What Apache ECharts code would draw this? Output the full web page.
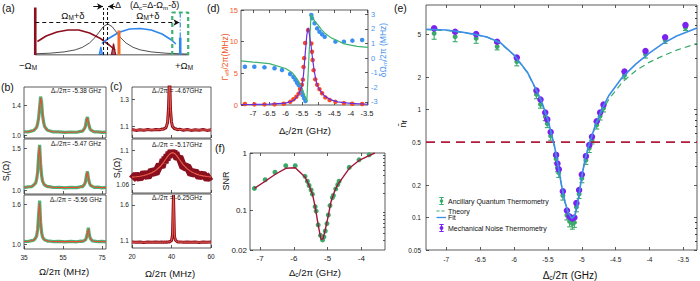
<!DOCTYPE html>
<html><head><meta charset="utf-8">
<script src="https://cdn.jsdelivr.net/npm/echarts@6.0.0/dist/echarts.min.js"></script>
<style>html,body{margin:0;padding:0;background:#fff}#c{width:700px;height:281px}</style>
</head><body><div id="c"></div>
<script>
// ---------------- (a) schematic (x in units of Omega_M) ----------------
const aBaseX = [-1.0, 1.12], aBaseY = [0, 0];
const aLorX = [-1.0,-0.8,-0.6,-0.45,-0.35,-0.25,-0.18,-0.12,-0.06,0,0.06,0.12,0.18,0.25,0.35,0.45,0.6,0.8,1.0,1.12];
const aLorY = [0.024,0.036,0.062,0.102,0.153,0.242,0.343,0.456,0.569,0.62,0.569,0.456,0.343,0.242,0.153,0.102,0.062,0.036,0.024,0.019];
const aRedDomeX = [-0.97,-0.85,-0.7,-0.55,-0.4,-0.25,-0.1,0.02,0.1];
const aRedDomeY = [0.27,0.38,0.46,0.5,0.5,0.44,0.33,0.2,0.1];
const aRedSpikeX = [0.05,0.08,0.11], aRedSpikeY = [0,0.23,0];
const aBlueDomeX = [-0.08,0.0,0.15,0.3,0.45,0.6,0.75,0.88,0.94];
const aBlueDomeY = [0.23,0.32,0.45,0.52,0.53,0.5,0.42,0.3,0.22];
const aBlueSpikeX = [-0.12,-0.095,-0.07], aBlueSpikeY = [0,0.16,0];
const aRedBarX = [-1,-1], aRedBarY = [0,0.95];
const aOrangeBarX = [0.155,0.155], aOrangeBarY = [0,0.49];
const aBlueBarX = [1,1], aBlueBarY = [0,0.35];
const aBlueDashX = [1,1], aBlueDashY = [0.35,0.84];
const aSpanX = [-1,0.99], aSpanY = [0.65,0.65];
const aDet1X = [-0.058,-0.058], aDet2X = [-0.003,-0.003], aDetY = [0,0.94];
const aArrLX = [-0.2,-0.065], aArrRX = [0.1,0.005], aArrY = [0.97,0.97];
const aBoxX = [0.89,0.89,1.11,1.11], aBoxY = [0,0.85,0.85,0];

// ---------------- (b) spectra ----------------
const bFreq = [35,37,39,40,41,41.5,42,42.5,43,43.5,44,44.5,45,45.5,46,47,48,50,53,56,59,62,64,65,66,66.5,67,67.5,68,68.5,69,70,71,73,75,77];
const b1Fit = [1.040,1.044,1.052,1.063,1.085,1.108,1.148,1.224,1.360,1.499,1.427,1.270,1.172,1.121,1.093,1.066,1.054,1.044,1.039,1.037,1.037,1.040,1.046,1.055,1.084,1.123,1.195,1.232,1.163,1.104,1.075,1.052,1.044,1.039,1.037,1.036];
const b1Data = [1.043,1.041,1.055,1.060,1.089,1.104,1.153,1.229,1.371,1.512,1.438,1.262,1.178,1.117,1.097,1.063,1.057,1.041,1.042,1.034,1.040,1.037,1.049,1.052,1.088,1.119,1.203,1.241,1.157,1.108,1.071,1.055,1.041,1.042,1.034,1.039];
const b2Fit = [1.039,1.042,1.051,1.063,1.095,1.135,1.224,1.412,1.525,1.323,1.179,1.115,1.085,1.069,1.059,1.049,1.044,1.040,1.037,1.036,1.036,1.038,1.043,1.050,1.073,1.107,1.178,1.221,1.145,1.090,1.066,1.048,1.042,1.038,1.036,1.035];
const b2Data = [1.036,1.045,1.048,1.066,1.092,1.139,1.220,1.418,1.540,1.318,1.183,1.112,1.088,1.066,1.062,1.046,1.047,1.037,1.040,1.033,1.039,1.035,1.046,1.047,1.076,1.104,1.182,1.226,1.142,1.093,1.063,1.051,1.039,1.041,1.033,1.038];
const b3Fit = [1.038,1.041,1.049,1.060,1.090,1.128,1.220,1.450,1.619,1.335,1.173,1.109,1.080,1.065,1.057,1.048,1.043,1.039,1.037,1.036,1.036,1.037,1.040,1.043,1.053,1.066,1.097,1.173,1.230,1.135,1.081,1.050,1.042,1.038,1.036,1.035];
const b3Data = [1.041,1.038,1.052,1.057,1.093,1.125,1.224,1.446,1.655,1.330,1.177,1.106,1.083,1.062,1.060,1.045,1.046,1.036,1.040,1.033,1.039,1.034,1.043,1.040,1.056,1.063,1.100,1.170,1.245,1.131,1.084,1.047,1.045,1.035,1.039,1.032];
const bXTicks = [35,55,75];
const bLabels = ['-5.38 GHz','-5.47 GHz','-5.56 GHz'];

// ---------------- (c) spectra ----------------
const cFreq = [20,22,24,26,28,30,32,34,35,36,36.5,37,37.5,38,38.5,39,39.5,40,40.5,41,41.5,42,43,44,46,48,50,52,54,56,58,60];
const c1Fit = [1.076,1.076,1.076,1.076,1.077,1.077,1.077,1.079,1.080,1.083,1.086,1.091,1.103,1.131,1.232,1.476,1.232,1.131,1.103,1.091,1.086,1.083,1.080,1.079,1.077,1.077,1.076,1.076,1.076,1.076,1.076,1.076];
const c1Data = [1.079,1.073,1.078,1.074,1.080,1.075,1.079,1.077,1.083,1.081,1.089,1.088,1.106,1.128,1.238,1.490,1.226,1.134,1.100,1.094,1.083,1.086,1.077,1.082,1.074,1.079,1.073,1.078,1.074,1.079,1.073,1.077];
const c2Fit = [1.0685,1.069,1.0696,1.0705,1.0718,1.0736,1.0763,1.0803,1.0828,1.0858,1.0875,1.0891,1.0908,1.0924,1.0939,1.0952,1.0962,1.0968,1.097,1.0968,1.0962,1.0952,1.0924,1.0891,1.0828,1.0781,1.0749,1.0726,1.0711,1.070,1.0693,1.0687];
const c2Data = [1.066,1.071,1.067,1.073,1.069,1.076,1.073,1.083,1.080,1.089,1.085,1.092,1.088,1.095,1.091,1.098,1.093,1.100,1.095,1.099,1.094,1.097,1.090,1.092,1.080,1.081,1.072,1.075,1.069,1.072,1.067,1.070];
const c3Fit = [1.081,1.081,1.081,1.081,1.081,1.081,1.081,1.081,1.081,1.081,1.081,1.082,1.082,1.083,1.084,1.086,1.091,1.105,1.170,1.730,1.170,1.105,1.086,1.083,1.082,1.081,1.081,1.081,1.081,1.081,1.081,1.081];
const c3Data = [1.083,1.079,1.082,1.078,1.083,1.080,1.082,1.079,1.083,1.080,1.082,1.081,1.084,1.081,1.086,1.085,1.094,1.102,1.180,1.735,1.160,1.108,1.084,1.085,1.080,1.083,1.079,1.082,1.078,1.083,1.080,1.082];
const cXTicks = [20,40,60];
const cLabels = ['-4.67GHz','-5.17GHz','-6.25GHz'];

// ---------------- (d) ----------------
const dGammaX = [-7.25,-6.96,-6.65,-6.34,-6.06,-5.86,-5.76,-5.67,-5.6,-5.55,-5.5,-5.47,-5.45,-5.43,-5.4,-5.31,-5.21,-5.19,-5.17,-5.14,-5.09,-5.03,-4.96,-4.88,-4.78,-4.65,-4.47,-4.21,-3.95,-3.65];
const dGammaY = [0.16,0.1,0.1,0.1,0.2,0.5,0.9,1.3,1.8,2.5,3.2,4.0,6.0,7.4,9.8,11.8,9.7,8.4,7.1,5.5,4.05,3.2,2.5,1.85,1.2,0.8,0.5,0.3,0.2,0.15];
const dGammaFitX = [-7.37,-7.0,-6.5,-6.0,-5.8,-5.7,-5.6,-5.5,-5.45,-5.4,-5.35,-5.31,-5.27,-5.22,-5.17,-5.12,-5.05,-5.0,-4.9,-4.8,-4.6,-4.4,-4.0,-3.47];
const dGammaFitY = [0.08,0.1,0.15,0.3,0.6,1.0,1.7,3.0,4.8,8.0,11.0,12.2,11.2,9.4,7.2,5.3,3.5,2.8,2.0,1.4,0.8,0.5,0.25,0.12];
const dShiftX = [-7.25,-6.96,-6.65,-6.34,-6.11,-5.86,-5.76,-5.70,-5.65,-5.6,-5.55,-5.52,-5.48,-5.43,-5.39,-5.21,-5.19,-5.11,-5.03,-4.96,-4.88,-4.8,-4.47,-4.21,-3.95,-3.65];
const dShiftY = [-0.6,-0.6,-0.64,-0.7,-0.82,-1.1,-1.3,-1.5,-1.7,-1.85,-2.08,-2.3,-2.53,-2.76,-2.95,2.95,2.72,2.38,2.03,1.8,1.62,1.46,1.12,1.12,1.19,1.23];
const dShiftThX = [-7.37,-7.0,-6.5,-6.0,-5.8,-5.7,-5.6,-5.5,-5.45,-5.4,-5.35,-5.22,-5.15,-5.1,-5.0,-4.9,-4.8,-4.6,-4.4,-4.2,-4.0,-3.8,-3.47];
const dShiftThY = [-0.2,-0.28,-0.38,-0.72,-1.0,-1.28,-1.6,-2.05,-2.35,-2.65,-3.0,3.0,2.7,2.5,2.25,1.95,1.72,1.38,1.18,0.97,0.88,0.8,0.73];
const dXTicks = [-7,-6.5,-6,-5.5,-5,-4.5,-4,-3.5];
const dLeftTicks = [0,5,10,15];
const dRightTicks = [-3,-2,-1,0,1,2,3];

// ---------------- (f) SNR ----------------
const fX = [-7.17,-6.85,-6.56,-6.24,-5.96,-5.67,-5.6,-5.55,-5.49,-5.45,-5.37,-5.34,-5.28,-5.21,-5.15,-5.11,-5.07,-5.02,-4.98,-4.93,-4.86,-4.83,-4.76,-4.70,-4.66,-4.36,-4.07,-3.77];
const fSNR = [0.24,0.34,0.46,0.6,0.6,0.39,0.32,0.27,0.225,0.19,0.115,0.096,0.055,0.036,0.03,0.034,0.043,0.058,0.082,0.12,0.165,0.18,0.235,0.28,0.32,0.56,0.76,0.93];
const fLineX = [-7.17,-6.85,-6.56,-6.24,-5.96,-5.67,-5.55,-5.45,-5.37,-5.28,-5.2,-5.14,-5.07,-4.98,-4.9,-4.8,-4.7,-4.36,-4.07,-3.77,-3.6];
const fLineY = [0.24,0.32,0.42,0.54,0.55,0.38,0.27,0.19,0.115,0.055,0.031,0.031,0.045,0.08,0.14,0.21,0.28,0.54,0.74,0.9,1.0];
const fXTicks = [-7,-6,-5,-4];
const fYTicks = [0.02,0.1,1];
const fYMinor = [0.03,0.04,0.05,0.06,0.07,0.08,0.09,0.2,0.3,0.4,0.5,0.6,0.7,0.8,0.9];

// ---------------- (e) occupancy ----------------
const eX = [-7.18,-6.87,-6.56,-6.25,-5.96,-5.67,-5.61,-5.54,-5.51,-5.46,-5.38,-5.36,-5.34,-5.28,-5.22,-5.18,-5.14,-5.11,-5.08,-5.04,-5.0,-4.94,-4.89,-4.85,-4.78,-4.73,-4.68,-4.37,-4.06,-3.77,-3.47];
const eMech = [5.65,5.26,5.0,4.25,3.03,1.5,1.24,0.94,0.81,0.62,0.38,0.316,0.28,0.175,0.116,0.102,0.098,0.10,0.136,0.18,0.25,0.37,0.47,0.56,0.78,0.94,1.11,2.25,3.49,4.67,6.06];
const eAnc = [5.08,4.73,4.57,3.83,2.78,1.38,1.12,0.86,0.74,0.57,0.35,0.29,0.26,0.16,0.105,0.092,0.088,0.09,0.125,0.165,0.23,0.34,0.44,0.52,0.72,0.87,1.03,2.08,3.25,4.4,5.75];
const eAncLo = [4.48,4.25,4.11,3.57,2.54,1.26,1.03,0.79,0.68,0.52,0.32,0.265,0.235,0.145,0.095,0.082,0.078,0.081,0.113,0.15,0.21,0.31,0.40,0.48,0.66,0.80,0.95,1.93,3.0,4.1,5.4];
const eAncHi = [5.5,5.15,4.95,4.1,3.0,1.5,1.22,0.93,0.8,0.62,0.38,0.315,0.28,0.175,0.115,0.101,0.097,0.099,0.137,0.18,0.25,0.37,0.48,0.56,0.78,0.94,1.11,2.23,3.5,4.7,6.1];
const eFitX = [-7.3,-7.0,-6.8,-6.6,-6.4,-6.2,-6.0,-5.8,-5.7,-5.6,-5.5,-5.4,-5.3,-5.25,-5.2,-5.15,-5.1,-5.05,-5.0,-4.95,-4.9,-4.8,-4.7,-4.6,-4.4,-4.2,-4.0,-3.8,-3.6,-3.3];
const eFitY = [5.55,5.45,5.25,5.0,4.7,4.15,3.2,2.2,1.65,1.22,0.8,0.45,0.2,0.14,0.11,0.098,0.105,0.15,0.24,0.35,0.46,0.72,1.02,1.35,2.0,2.65,3.35,4.1,4.8,5.7];
const eTheoryY = [5.5,5.4,5.22,4.98,4.68,4.12,3.18,2.18,1.63,1.2,0.79,0.44,0.2,0.14,0.11,0.098,0.105,0.15,0.24,0.35,0.46,0.7,0.97,1.25,1.8,2.3,2.75,3.15,3.55,4.1];
const eThreshX = [-7.3,-3.3], eThreshY = [0.5,0.5];
const eXTicks = [-7,-6.5,-6,-5.5,-5,-4.5,-4,-3.5];
const eYTicks = [0.05,0.1,0.2,0.5,1,2,5];
const eYMinor = [0.06,0.07,0.08,0.09,0.3,0.4,0.6,0.7,0.8,0.9,3,4,6,7,8,9];

// ---------------- build ----------------
const FONT = "'Liberation Sans', Arial, sans-serif";
const lg = a => a.map(v => Math.log10(v));
const pts = (xs, ys) => xs.map((x, i) => [x, ys[i]]);
const powFmt = v => String(+Math.pow(10, v).toPrecision(2));
const GREEN = '#3aaa6a', BRED = '#ee4a2c', DRED = '#8a1020';

function box(left, top, width, height) {
  return {left, top, width, height, show: true, borderColor: '#333', borderWidth: 0.8, backgroundColor: 'transparent', containLabel: false, outerBoundsMode: 'none'};
}
function ax(o) {
  return {
    type: 'value', gridIndex: o.grid, min: o.min, max: o.max, position: o.pos,
    axisLine: {show: false, onZero: false}, splitLine: {show: false},
    axisTick: {show: true, inside: true, length: o.len || 3, customValues: o.ticks, lineStyle: {color: '#333', width: 0.8}},
    axisLabel: {show: !!o.labels, customValues: o.ticks, formatter: o.fmt || (v => String(v)), fontSize: o.fs || 7, color: o.color || '#222', fontFamily: FONT, margin: o.margin || 3, hideOverlap: false}
  };
}
function line(xi, yi, xs, ys, color, width, extra) {
  return Object.assign({type: 'line', xAxisIndex: xi, yAxisIndex: yi, data: pts(xs, ys), showSymbol: false, symbol: 'none', silent: true,
    lineStyle: {color, width}, animation: false}, extra || {});
}
function scat(xi, yi, xs, ys, color, size) {
  return {type: 'scatter', xAxisIndex: xi, yAxisIndex: yi, data: pts(xs, ys), symbolSize: size, itemStyle: {color, opacity: 1}, silent: true, animation: false};
}
function arrow(xs, ys, dashed) {
  return {type: 'line', xAxisIndex: 0, yAxisIndex: 0, data: [], silent: true,
    markLine: {silent: true, animation: false, symbol: ['none', 'arrow'], symbolSize: [5, 6], label: {show: false},
      lineStyle: {color: '#111', width: 1, type: dashed ? [4, 3] : 'solid'},
      data: [[{coord: [xs[0], ys[0]]}, {coord: [xs[1], ys[1]]}]]}};
}

const grid = [
  {left: 28, top: 5, width: 166, height: 50, show: false, containLabel: false, outerBoundsMode: 'none'},
  box(24, 87, 82, 51), box(24, 139, 82, 55), box(24, 195, 82, 54),
  box(132, 87, 79, 51), box(132, 139, 79, 54), box(132, 194, 79, 54),
  box(241, 10, 127, 95),
  box(250, 153, 135, 97),
  box(426, 5, 271, 245)
];
const xAxis = [
  {type: 'value', gridIndex: 0, min: -1.1, max: 1.19, show: false, axisLine: {onZero: false}},
  ax({grid: 1, min: 35, max: 77, ticks: bXTicks}),
  ax({grid: 2, min: 35, max: 77, ticks: bXTicks}),
  ax({grid: 3, min: 35, max: 77, ticks: bXTicks, labels: true, fs: 6.5, margin: 5}),
  ax({grid: 4, min: 20, max: 60, ticks: cXTicks}),
  ax({grid: 5, min: 20, max: 60, ticks: cXTicks}),
  ax({grid: 6, min: 20, max: 60, ticks: cXTicks, labels: true, fs: 6.5, margin: 5}),
  ax({grid: 7, min: -7.37, max: -3.47, ticks: dXTicks, labels: true, fs: 7.5, margin: 4}),
  ax({grid: 7, min: -7.37, max: -3.47, ticks: dXTicks, pos: 'top'}),
  ax({grid: 8, min: -7.3, max: -3.3, ticks: fXTicks, labels: true, fs: 8, margin: 4}),
  ax({grid: 8, min: -7.3, max: -3.3, ticks: fXTicks, pos: 'top'}),
  ax({grid: 9, min: -7.3, max: -3.3, ticks: eXTicks, labels: true, fs: 6.5, margin: 6}),
  ax({grid: 9, min: -7.3, max: -3.3, ticks: eXTicks, pos: 'top'})
];
const f1 = v => v.toFixed(1), f2 = v => String(+v.toFixed(2));
const yAxis = [
  {type: 'value', gridIndex: 0, min: 0, max: 1, show: false, axisLine: {onZero: false}},
  ax({grid: 1, min: 0.96, max: 1.64, ticks: [1.0, 1.4], labels: true, fmt: f1, fs: 6.5}),
  ax({grid: 2, min: 0.96, max: 1.61, ticks: [1.0, 1.5], labels: true, fmt: f1, fs: 6.5}),
  ax({grid: 3, min: 0.925, max: 1.74, ticks: [1.0, 1.6], labels: true, fmt: f1, fs: 6.5}),
  ax({grid: 4, min: 1.018, max: 1.387, ticks: [1.1, 1.3], labels: true, fmt: f2, fs: 6.5}),
  ax({grid: 5, min: 1.05, max: 1.113, ticks: [1.06, 1.1], labels: true, fmt: f2, fs: 6.5}),
  ax({grid: 6, min: 1.0, max: 1.75, ticks: [1.1, 1.6], labels: true, fmt: f2, fs: 6.5}),
  ax({grid: 7, min: 0, max: 15, ticks: dLeftTicks, labels: true, fs: 7.5, color: '#f05a28'}),
  ax({grid: 7, min: -3.22, max: 3.29, ticks: dRightTicks, labels: true, fs: 7.5, color: '#4a94ec', pos: 'right'}),
  ax({grid: 8, min: Math.log10(0.02), max: 0, ticks: lg(fYTicks), labels: true, fmt: powFmt, fs: 8}),
  ax({grid: 8, min: Math.log10(0.02), max: 0, ticks: lg(fYMinor), len: 2}),
  ax({grid: 9, min: Math.log10(0.05), max: Math.log10(9.3), ticks: lg(eYTicks), labels: true, fmt: powFmt, fs: 6.5, margin: 5}),
  ax({grid: 9, min: Math.log10(0.05), max: Math.log10(9.3), ticks: lg(eYMinor), len: 2}),
  ax({grid: 9, min: Math.log10(0.05), max: Math.log10(9.3), ticks: lg(eYTicks), pos: 'right'}),
  ax({grid: 9, min: Math.log10(0.05), max: Math.log10(9.3), ticks: lg(eYMinor), len: 2, pos: 'right'})
];

function errRender(color) {
  return function (params, api) {
    const x = api.value(0), lo = api.coord([x, api.value(1)]), hi = api.coord([x, api.value(2)]);
    const w = 2.5, st = {stroke: color, lineWidth: 1.1};
    return {type: 'group', children: [
      {type: 'line', shape: {x1: lo[0], y1: lo[1], x2: hi[0], y2: hi[1]}, style: st},
      {type: 'line', shape: {x1: lo[0] - w, y1: lo[1], x2: lo[0] + w, y2: lo[1]}, style: st},
      {type: 'line', shape: {x1: hi[0] - w, y1: hi[1], x2: hi[0] + w, y2: hi[1]}, style: st}
    ]};
  };
}

const series = [
  // (a)
  line(0, 0, aBaseX, aBaseY, '#111', 1),
  line(0, 0, aLorX, aLorY, '#222', 0.8),
  line(0, 0, aRedDomeX, aRedDomeY, '#8b0f1f', 1.6),
  line(0, 0, aBlueDomeX, aBlueDomeY, '#2f86f0', 1.6),
  line(0, 0, aRedSpikeX, aRedSpikeY, '#8b0f1f', 1.2, {areaStyle: {color: '#8b0f1f'}}),
  line(0, 0, aBlueSpikeX, aBlueSpikeY, '#2f86f0', 1.2, {areaStyle: {color: '#2f86f0'}}),
  line(0, 0, aRedBarX, aRedBarY, '#8b0f1f', 2.6),
  line(0, 0, aOrangeBarX, aOrangeBarY, '#f26a2a', 3),
  line(0, 0, aBlueBarX, aBlueBarY, '#2f86f0', 2.6),
  line(0, 0, aBlueDashX, aBlueDashY, '#2f86f0', 1.2, {lineStyle: {color: '#2f86f0', width: 1.2, type: [5, 2, 1, 2]}}),
  line(0, 0, aDet1X, aDetY, '#111', 1, {lineStyle: {color: '#111', width: 1, type: [3, 2]}}),
  line(0, 0, aDet2X, aDetY, '#111', 1, {lineStyle: {color: '#111', width: 1, type: [3, 2]}}),
  line(0, 0, aBoxX, aBoxY, '#3cb371', 2.2, {lineStyle: {color: '#3cb371', width: 2.2, type: [4, 3]}}),
  arrow(aSpanX, aSpanY, true),
  arrow(aArrLX, aArrY, false),
  arrow(aArrRX, aArrY, false),
  // (b)
  line(1, 1, bFreq, b1Data, GREEN, 3.2, {lineStyle: {color: GREEN, width: 3.2, opacity: 0.9}}),
  line(1, 1, bFreq, b1Fit, BRED, 1.1),
  line(2, 2, bFreq, b2Data, GREEN, 3.2, {lineStyle: {color: GREEN, width: 3.2, opacity: 0.9}}),
  line(2, 2, bFreq, b2Fit, BRED, 1.1),
  line(3, 3, bFreq, b3Data, GREEN, 3.2, {lineStyle: {color: GREEN, width: 3.2, opacity: 0.9}}),
  line(3, 3, bFreq, b3Fit, BRED, 1.1),
  // (c)
  line(4, 4, cFreq, c1Data, DRED, 3),
  line(4, 4, cFreq, c1Fit, '#f0604a', 1),
  line(5, 5, cFreq, c2Data, DRED, 8),
  line(5, 5, cFreq, c2Fit, '#f0604a', 1.1),
  line(6, 6, cFreq, c3Data, DRED, 3),
  line(6, 6, cFreq, c3Fit, '#f0604a', 1),
  // (d)
  line(7, 8, dShiftThX, dShiftThY, '#3cb371', 1.2),
  scat(7, 8, dShiftX, dShiftY, '#3b8ff0', 4.5),
  scat(7, 7, dGammaX, dGammaY, '#ff4a1c', 4.5),
  line(7, 7, dGammaFitX, dGammaFitY, '#6b2fe0', 1.2),
  // (f)
  line(9, 9, fLineX, lg(fLineY), '#a31538', 1.4),
  scat(9, 9, fX, lg(fSNR), GREEN, 5),
  // (e)
  line(11, 11, eThreshX, lg(eThreshY), '#b01c3c', 1.8, {lineStyle: {color: '#b01c3c', width: 1.8, type: [9, 6]}}),
  {type: 'custom', xAxisIndex: 11, yAxisIndex: 11, silent: true, animation: false,
    data: eX.map((x, i) => [x, Math.log10(eAncLo[i]), Math.log10(eAncHi[i])]),
    encode: {x: 0, y: [1, 2]}, renderItem: errRender(GREEN)},
  scat(11, 11, eX, lg(eAnc), GREEN, 5),
  line(11, 11, eFitX, lg(eTheoryY), GREEN, 1.2, {lineStyle: {color: GREEN, width: 1.2, type: [6, 4]}}),
  line(11, 11, eFitX, lg(eFitY), '#3a8ee8', 1.6),
  scat(11, 11, eX, lg(eMech), '#7b22f0', 6.5)
];

// ---------------- text ----------------
function rich(fs, color) {
  return {
    n: {fontSize: fs, fontFamily: FONT, fill: color, lineHeight: fs * 1.2},
    s: {fontSize: fs * 0.68, fontFamily: FONT, fill: color, verticalAlign: 'bottom', lineHeight: fs * 0.55}
  };
}
function T(x, y, text, fs, o) {
  o = o || {};
  const color = o.color || '#111';
  return {type: 'text', x, y, rotation: o.rot || 0, silent: true, z: 50,
    style: {text, rich: rich(fs, color), fontSize: fs, fontFamily: FONT, fill: color,
      align: o.align || 'center', textAlign: o.align || 'center', verticalAlign: 'middle', textVerticalAlign: 'middle'}};
}
const R90 = Math.PI / 2;
const graphic = [
  T(2, 8, '{n|(a)}', 10.5, {align: 'left'}),
  T(1, 87, '{n|(b)}', 10.5, {align: 'left'}),
  T(110, 86, '{n|(c)}', 10.5, {align: 'left'}),
  T(207, 8, '{n|(d)}', 10.5, {align: 'left'}),
  T(394, 8, '{n|(e)}', 10.5, {align: 'left'}),
  T(215, 148, '{n|(f)}', 10.5, {align: 'left'}),
  // (a) labels
  T(28, 65, '{n|−Ω}{s|M}', 9.5),
  T(184, 65, '{n|+Ω}{s|M}', 9.5),
  T(73, 15, '{n|Ω}{s|M}{n|+δ}', 9.5),
  T(148, 15, '{n|Ω}{s|M}{n|+δ}', 9.5),
  T(115, 5, '{n|Δ}', 9, {align: 'left'}),
  T(130, 5, '{n|(Δ}{s|c}{n|=Δ-Ω}{s|m}{n|-δ)}', 9, {align: 'left'}),
  // (b)
  T(76, 90, '{n|Δ}{s|c}{n|/2π= ' + bLabels[0] + '}', 6.3),
  T(76, 143, '{n|Δ}{s|c}{n|/2π= ' + bLabels[1] + '}', 6.3),
  T(76, 199, '{n|Δ}{s|c}{n|/2π = ' + bLabels[2] + '}', 6.3),
  T(6, 171, '{n|S}{s|f}{n|(Ω)}', 9, {rot: R90}),
  T(64, 271, '{n|Ω/2π (MHz)}', 9.5),
  // (c)
  T(177, 90, '{n|Δ}{s|c}{n|/2π = ' + cLabels[0] + '}', 6.3),
  T(177, 144, '{n|Δ}{s|c}{n|/2π = ' + cLabels[1] + '}', 6.3),
  T(177, 197, '{n|Δ}{s|c}{n|/2π = ' + cLabels[2] + '}', 6.3),
  T(117, 168, '{n|S}{s|f}{n|(Ω)}', 9, {rot: R90}),
  T(170, 273, '{n|Ω/2π (MHz)}', 9.5),
  // (d)
  T(225, 57, '{n|Γ}{s|eff}{n|/2π(MHz)}', 8.5, {rot: R90, color: '#f05a28'}),
  T(383, 50, '{n|δΩ}{s|m}{n|/2π (MHz)}', 8.5, {rot: R90, color: '#4a94ec'}),
  T(305, 130, '{n|Δ}{s|c}{n|/2π (GHz)}', 9.5),
  // (f)
  T(226, 181, '{n|SNR}', 9, {rot: R90}),
  T(315, 272, '{n|Δ}{s|c}{n|/2π (GHz)}', 9.5),
  // (e)
  T(402, 124, '{n|n̄}{s|f}', 9.5, {rot: R90}),
  T(570, 275, '{n|Δ}{s|c}{n|/2π (GHz)}', 10),
  // legend (e)
  {type: 'line', shape: {x1: 441.5, y1: 197.5, x2: 441.5, y2: 204.5}, style: {stroke: GREEN, lineWidth: 1}},
  {type: 'line', shape: {x1: 439.3, y1: 197.5, x2: 443.7, y2: 197.5}, style: {stroke: GREEN, lineWidth: 1}},
  {type: 'line', shape: {x1: 439.3, y1: 204.5, x2: 443.7, y2: 204.5}, style: {stroke: GREEN, lineWidth: 1}},
  {type: 'circle', shape: {cx: 441.5, cy: 201, r: 1.8}, style: {fill: GREEN}},
  T(448, 201, '{n|Ancillary Quantum Thermometry}', 7, {align: 'left'}),
  {type: 'line', shape: {x1: 436.5, y1: 211, x2: 446, y2: 211}, style: {stroke: GREEN, lineWidth: 1.1, lineDash: [3, 2]}},
  T(448, 211, '{n|Theory}', 7, {align: 'left'}),
  {type: 'line', shape: {x1: 436.5, y1: 217.5, x2: 446, y2: 217.5}, style: {stroke: '#3a8ee8', lineWidth: 1.3}},
  T(448, 217.5, '{n|Fit}', 7, {align: 'left'}),
  {type: 'line', shape: {x1: 441.5, y1: 224.5, x2: 441.5, y2: 231.5}, style: {stroke: '#7b22f0', lineWidth: 1}},
  {type: 'line', shape: {x1: 439.3, y1: 224.5, x2: 443.7, y2: 224.5}, style: {stroke: '#7b22f0', lineWidth: 1}},
  {type: 'line', shape: {x1: 439.3, y1: 231.5, x2: 443.7, y2: 231.5}, style: {stroke: '#7b22f0', lineWidth: 1}},
  {type: 'circle', shape: {cx: 441.5, cy: 228, r: 1.9}, style: {fill: '#7b22f0'}},
  T(448, 228, '{n|Mechanical Noise Thermometry}', 7, {align: 'left'})
];

const chart = echarts.init(document.getElementById('c'), null, {renderer: 'svg', width: 700, height: 281});
chart.setOption({
  backgroundColor: '#fff', animation: false,
  textStyle: {fontFamily: FONT},
  grid, xAxis, yAxis, series, graphic
});
</script></body></html>
